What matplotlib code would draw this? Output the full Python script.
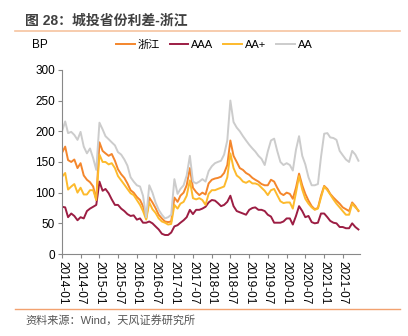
import matplotlib
matplotlib.use("Agg")
import matplotlib.pyplot as plt
import pandas as pd

plt.rcParams['font.family'] = ['Liberation Sans', 'Noto Sans CJK SC', 'DejaVu Sans']

# monthly spread values (BP), 2014-01 .. 2021-12
dates = pd.date_range('2014-01-01', periods=96, freq='MS')

zhejiang = [165, 175, 153, 150, 154, 140, 148, 128, 121, 117, 110, 88,
            182, 168, 164, 160, 163, 152, 138, 130, 124, 115, 104, 100,
            93, 88, 78, 58, 92, 84, 75, 64, 58, 53, 52, 53,
            92, 85, 95, 100, 112, 140, 108, 101, 96, 100, 97, 115,
            121, 123, 124, 126, 132, 145, 185, 160, 150, 140, 137, 132,
            129, 124, 121, 118, 114, 112, 112, 121, 118, 108, 99, 96,
            100, 98, 90, 108, 131, 112, 98, 87, 78, 73, 75, 95,
            111, 106, 98, 92, 87, 82, 76, 73, 70, 84, 78, 70]

aaa = [77, 76, 60, 66, 62, 55, 60, 58, 70, 74, 77, 80,
       118, 103, 106, 99, 89, 80, 80, 74, 70, 65, 62, 63,
       56, 58, 51, 51, 53, 50, 45, 40, 33, 31, 31, 35,
       45, 47, 51, 55, 60, 72, 65, 72, 72, 74, 77, 84,
       88, 87, 83, 78, 80, 85, 95, 78, 70, 68, 66, 64,
       72, 75, 76, 72, 72, 70, 64, 61, 51, 51, 51, 53,
       58, 58, 48, 62, 78, 70, 60, 62, 52, 50, 51, 66,
       66, 60, 54, 51, 50, 44, 44, 42, 42, 50, 44, 40]

aa_plus = [126, 132, 105, 110, 114, 100, 108, 97, 97, 104, 104, 88,
           162, 150, 150, 146, 148, 140, 127, 120, 113, 106, 99, 96,
           88, 80, 70, 56, 84, 73, 67, 58, 53, 51, 48, 49,
           80, 74, 82, 85, 95, 120, 91, 89, 91, 88, 80, 98,
           104, 104, 106, 108, 110, 125, 164, 140, 128, 124, 118, 116,
           119, 115, 115, 113, 108, 103, 96, 104, 106, 96, 86, 83,
           84, 84, 74, 100, 127, 105, 90, 82, 76, 72, 74, 92,
           110, 104, 97, 89, 82, 76, 70, 64, 64, 82, 76, 71]

aa = [200, 216, 197, 199, 194, 186, 199, 175, 164, 172, 156, 137,
      214, 203, 192, 187, 182, 177, 166, 162, 154, 144, 125, 118,
      112, 110, 95, 60, 112, 100, 84, 72, 64, 58, 60, 64,
      122, 98, 106, 112, 128, 160, 118, 115, 118, 122, 118, 135,
      143, 148, 150, 152, 162, 185, 250, 215, 206, 200, 192, 185,
      178, 172, 167, 160, 155, 145, 167, 185, 188, 168, 150, 145,
      148, 145, 136, 170, 192, 160, 146, 125, 112, 112, 114, 158,
      196, 197, 190, 189, 186, 168, 161, 154, 150, 168, 162, 152]

names = ['浙江', 'AAA', 'AA+', 'AA']
colors = ['#F4862C', '#9C1D43', '#FDBA2C', '#CCCCCC']

fig = plt.figure(figsize=(4.08, 3.36), dpi=100)
ax = fig.add_axes([0.152, 0.244, 0.73, 0.548])

for vals, name, c in zip([zhejiang, aaa, aa_plus, aa], names, colors):
    ax.plot(dates, vals, color=c, lw=1.4, label=name)

ax.set_ylim(0, 300)
ax.set_yticks(range(0, 301, 50))
ax.set_xlim(pd.Timestamp('2014-01-01'), pd.Timestamp('2021-12-15'))
ticks = pd.date_range('2014-01-01', '2021-07-01', freq='6MS')
ax.set_xticks(ticks)
ax.set_xticklabels([t.strftime('%Y-%m') for t in ticks], rotation=270)
ax.tick_params(axis='both', labelsize=8.5, color='#888888', length=3, pad=2)

for s in ['top', 'right']:
    ax.spines[s].set_visible(False)
for s in ['left', 'bottom']:
    ax.spines[s].set_color('#888888')

# legend and unit label
fig.legend(loc='center', bbox_to_anchor=(0.525, 1 - 45 / 336), ncol=4,
           frameon=False, fontsize=8, handlelength=1.7, handletextpad=0.25,
           columnspacing=0.9)
fig.text(32 / 408, 1 - 45 / 336, 'BP', fontsize=8.5, va='center')

# title and source
fig.text(25 / 408, 1 - 21 / 336, '图 28：城投省份利差-浙江', fontsize=10,
         fontweight='bold', color='#404040', va='center')
fig.add_artist(plt.Line2D([15 / 408, 400 / 408], [1 - 31 / 336, 1 - 31 / 336],
                          color='#F6C3A0', lw=1.2))
fig.add_artist(plt.Line2D([15 / 408, 400 / 408], [1 - 309 / 336, 1 - 309 / 336],
                          color='#F2A270', lw=1.0))
fig.text(25 / 408, 1 - 320 / 336, '资料来源：Wind，天风证券研究所', fontsize=8,
         color='#555555', va='center')

fig.savefig('out.png', dpi=100)
